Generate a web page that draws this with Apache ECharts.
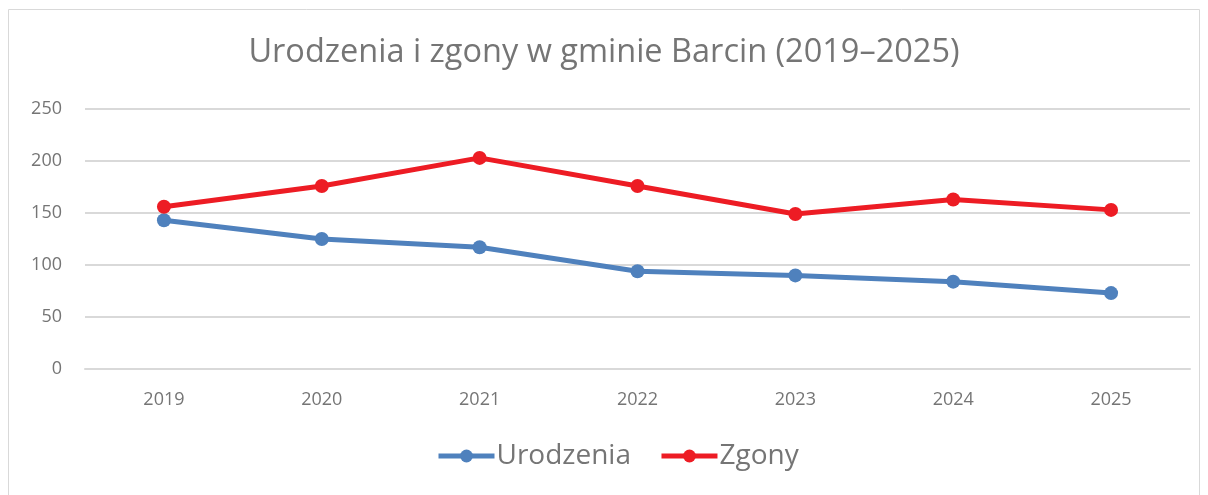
<!DOCTYPE html>
<html>
<head>
<meta charset="utf-8">
<script src="https://cdn.jsdelivr.net/npm/echarts@6/dist/echarts.min.js"></script>
<style>
  html, body { margin: 0; padding: 0; background: #fff; }
  #chart { width: 1208px; height: 495px; }
</style>
</head>
<body>
<div id="chart"></div>
<script>
const years = ['2019', '2020', '2021', '2022', '2023', '2024', '2025']
const urodzenia = [143, 125, 117, 94, 90, 84, 73]
const zgony = [156, 176, 203, 176, 149, 163, 153]
const yTicks = [0, 50, 100, 150, 200, 250]

const chart = echarts.init(document.getElementById('chart'))
const font = '"Open Sans", "Noto Sans", sans-serif'

chart.setOption({
  animation: false,
  graphic: [{
    type: 'rect',
    shape: { x: 8.5, y: 9.5, width: 1191, height: 500 },
    style: { fill: 'none', stroke: '#d9d9d9', lineWidth: 1 }
  }],
  title: {
    text: 'Urodzenia i zgony w gminie Barcin (2019–2025)',
    left: 'center',
    top: 31,
    textStyle: { color: '#757575', fontSize: 32.5, fontWeight: 'normal', fontFamily: font }
  },
  legend: {
    bottom: 20,
    left: 431,
    itemWidth: 56,
    itemHeight: 16,
    itemGap: 28,
    lineStyle: { width: 5 },
    textStyle: { color: '#757575', fontSize: 28, fontFamily: font, padding: [0, 0, 0, -3] },
    data: ['Urodzenia', 'Zgony']
  },
  grid: { left: 85, right: 18, top: 109, bottom: 126 },
  xAxis: {
    type: 'category',
    data: years,
    axisLine: { lineStyle: { color: '#d9d9d9', width: 2 } },
    axisTick: { show: false },
    axisLabel: { color: '#757575', fontSize: 18, margin: 22, fontFamily: font }
  },
  yAxis: {
    type: 'value',
    min: yTicks[0],
    max: yTicks[yTicks.length - 1],
    interval: 50,
    axisLabel: { color: '#757575', fontSize: 18, margin: 23, fontFamily: font },
    splitLine: { lineStyle: { color: '#d9d9d9', width: 2 } }
  },
  series: [
    {
      name: 'Urodzenia',
      type: 'line',
      data: urodzenia,
      symbol: 'circle',
      symbolSize: 14,
      color: '#4f81bd',
      lineStyle: { width: 5, color: '#4f81bd' },
      itemStyle: { color: '#4f81bd' }
    },
    {
      name: 'Zgony',
      type: 'line',
      data: zgony,
      symbol: 'circle',
      symbolSize: 14,
      color: '#ed1c24',
      lineStyle: { width: 5, color: '#ed1c24' },
      itemStyle: { color: '#ed1c24' }
    }
  ]
})
</script>
</body>
</html>
